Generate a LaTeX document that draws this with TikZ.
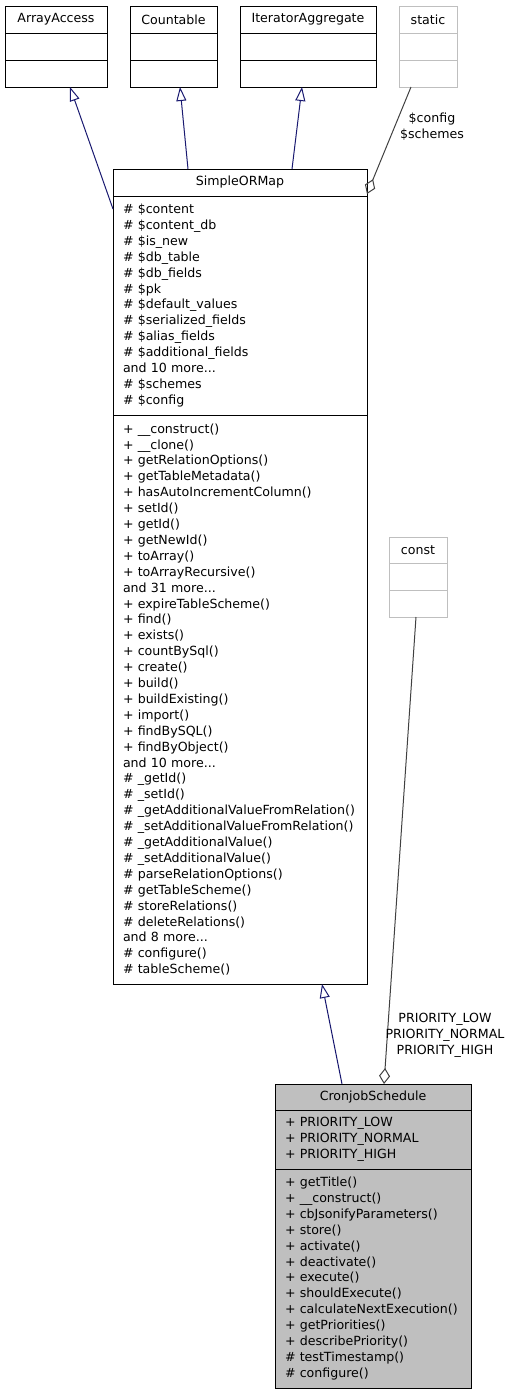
\documentclass[tikz,border=0pt]{standalone}
\usepackage{fontspec}
\setmainfont{DejaVu Sans}
\usepackage{tikz}
\usetikzlibrary{arrows.meta}
\usetikzlibrary{positioning}

\definecolor{midnight}{RGB}{25,25,112}
\definecolor{edgegray}{RGB}{64,64,64}
\definecolor{boxgray}{RGB}{191,191,191}
\newcommand{\umlfont}{\fontsize{12.6}{15.9}\selectfont}

\begin{document}
\begin{tikzpicture}[x=1pt, y=-1pt,
		cls/.style={draw, line width=1pt, inner sep=0pt, outer sep=0pt, font=\umlfont},
		clstitle/.style={cls, minimum height=27pt},
		clsempty/.style={cls, minimum height=27pt},
		clsbody/.style={cls, align=left, inner xsep=10pt, inner ysep=0pt},
		ghost/.style={draw=boxgray},
		inherit/.style={draw=midnight, line width=1pt, -{Triangle[open, length=14pt, width=10pt]}},
		aggr/.style={draw=edgegray, line width=1pt, {Diamond[open, length=16pt, width=11pt]}-},
		edgelabel/.style={font=\umlfont, align=center, inner sep=0pt}]
		\useasboundingbox (0,0) rectangle (509,1395);

		\node[clstitle, minimum width=102pt] (arrayaccess) at (56,19.5) {ArrayAccess};
		\node[clsempty, minimum width=102pt, below=0pt of arrayaccess] (arrayaccessattr) {};
		\node[clsempty, minimum width=102pt, below=0pt of arrayaccessattr] (arrayaccessops) {};

		\node[clstitle, minimum width=87pt] (countable) at (173.5,19.5) {Countable};
		\node[clsempty, minimum width=87pt, below=0pt of countable] (countableattr) {};
		\node[clsempty, minimum width=87pt, below=0pt of countableattr] (countableops) {};

		\node[clstitle, minimum width=136pt] (iteragg) at (308,19.5) {IteratorAggregate};
		\node[clsempty, minimum width=136pt, below=0pt of iteragg] (iteraggattr) {};
		\node[clsempty, minimum width=136pt, below=0pt of iteraggattr] (iteraggops) {};

		\node[clstitle, ghost, minimum width=58pt] (static) at (428,19.5) {static};
		\node[clsempty, ghost, minimum width=58pt, below=0pt of static] (staticattr) {};
		\node[clsempty, ghost, minimum width=58pt, below=0pt of staticattr] (staticops) {};

		\node[clstitle, minimum width=254pt] (sorm) at (240,182.5) {SimpleORMap};
		\node[clsbody, text width=234pt, minimum height=219pt, below=0pt of sorm] (sormattr) {%
			\# \$content\\
			\# \$content\_db\\
			\# \$is\_new\\
			\# \$db\_table\\
			\# \$db\_fields\\
			\# \$pk\\
			\# \$default\_values\\
			\# \$serialized\_fields\\
			\# \$alias\_fields\\
			\# \$additional\_fields\\
			and 10 more...\\
			\# \$schemes\\
			\# \$config};
		\node[clsbody, text width=234pt, minimum height=569pt, below=0pt of sormattr] (sormops) {%
			+ \_\_construct()\\
			+ \_\_clone()\\
			+ getRelationOptions()\\
			+ getTableMetadata()\\
			+ hasAutoIncrementColumn()\\
			+ setId()\\
			+ getId()\\
			+ getNewId()\\
			+ toArray()\\
			+ toArrayRecursive()\\
			and 31 more...\\
			+ expireTableScheme()\\
			+ find()\\
			+ exists()\\
			+ countBySql()\\
			+ create()\\
			+ build()\\
			+ buildExisting()\\
			+ import()\\
			+ findBySQL()\\
			+ findByObject()\\
			and 10 more...\\
			\# \_getId()\\
			\# \_setId()\\
			\# \_getAdditionalValueFromRelation()\\
			\# \_setAdditionalValueFromRelation()\\
			\# \_getAdditionalValue()\\
			\# \_setAdditionalValue()\\
			\# parseRelationOptions()\\
			\# getTableScheme()\\
			\# storeRelations()\\
			\# deleteRelations()\\
			and 8 more...\\
			\# configure()\\
			\# tableScheme()};

		\node[clstitle, ghost, minimum width=58pt, minimum height=26pt] (const) at (418,550) {const};
		\node[clsempty, ghost, minimum width=58pt, below=0pt of const] (constattr) {};
		\node[clsempty, ghost, minimum width=58pt, below=0pt of constattr] (constops) {};

		\node[clstitle, fill=boxgray, minimum width=196pt, minimum height=26pt] (cronjob) at (373,1097) {CronjobSchedule};
		\node[clsbody, fill=boxgray, text width=176pt, minimum height=59pt, below=0pt of cronjob] (cronjobattr) {%
			+ PRIORITY\_LOW\\
			+ PRIORITY\_NORMAL\\
			+ PRIORITY\_HIGH};
		\node[clsbody, fill=boxgray, text width=176pt, minimum height=219pt, below=0pt of cronjobattr] (cronjobops) {%
			+ getTitle()\\
			+ \_\_construct()\\
			+ cbJsonifyParameters()\\
			+ store()\\
			+ activate()\\
			+ deactivate()\\
			+ execute()\\
			+ shouldExecute()\\
			+ calculateNextExecution()\\
			+ getPriorities()\\
			+ describePriority()\\
			\# testTimestamp()\\
			\# configure()};

		\draw[inherit] ([yshift=-13pt]sormattr.north west) -- ([xshift=14pt]arrayaccessops.south);
		\draw[inherit] ([xshift=-52pt]sorm.north) -- ([xshift=6.5pt]countableops.south);
		\draw[inherit] ([xshift=52pt]sorm.north) -- ([xshift=-6pt]iteraggops.south);
		\draw[aggr] ([yshift=2pt]sorm.south east) -- ([xshift=-17pt]staticops.south);
		\node[edgelabel] (staticlabel) at (432,127) {\$config\\\$schemes};

		\draw[inherit] ([xshift=-31pt]cronjob.north) -- ([xshift=82pt]sormops.south);
		\draw[aggr] ([xshift=11pt]cronjob.north) -- ([xshift=-2pt]constops.south);
		\node[edgelabel] (constlabel) at (445,1035) {PRIORITY\_LOW\\PRIORITY\_NORMAL\\PRIORITY\_HIGH};

		\end{tikzpicture}
\end{document}
